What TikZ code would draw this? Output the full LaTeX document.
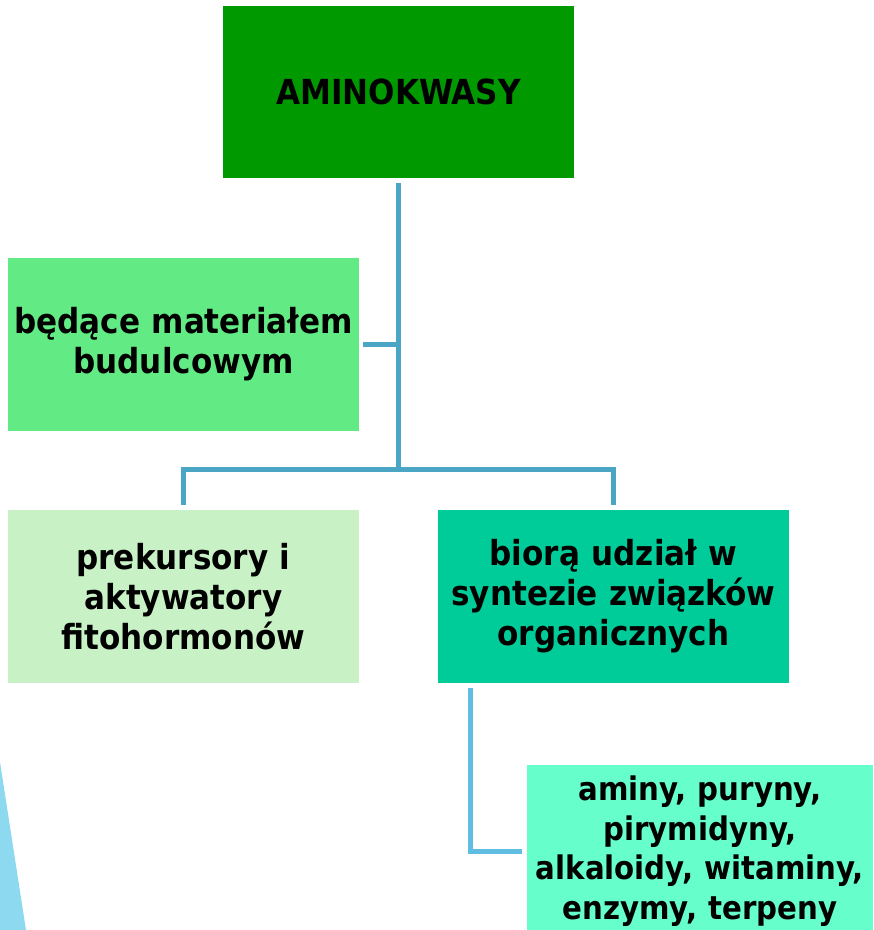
\documentclass[tikz,border=0pt]{standalone}
\usepackage{fontspec}
\setmainfont{DejaVu Sans Condensed}
\usepackage{xcolor}
\usetikzlibrary{positioning, calc}

\definecolor{topgreen}{RGB}{0,153,0}
\definecolor{midgreen}{RGB}{98,234,133}
\definecolor{palegreen}{RGB}{200,242,197}
\definecolor{seagreen}{RGB}{0,204,153}
\definecolor{mintgreen}{RGB}{102,255,204}
\definecolor{linkblue}{RGB}{75,165,197}
\definecolor{lightlink}{RGB}{94,189,224}
\definecolor{skyblue}{RGB}{141,217,240}

\begin{document}
\begin{tikzpicture}[
    x=1pt, y=-1pt,
    block/.style={rectangle, text width=345pt, align=center, minimum width=351pt, minimum height=173pt, inner sep=0pt, font=\fontsize{34.5}{40}\selectfont\bfseries},
    link/.style={line width=5pt, linkblue},
    link2/.style={line width=5pt, lightlink}
]
    \useasboundingbox (0,0) rectangle (874,930);

    % Background wedge
    \fill[skyblue] (0,762) -- (26,930) -- (0,930) -- cycle;

    % Main blocks
    \node[block, fill=topgreen, minimum height=172pt] (amino) at (398.5,92) {AMINOKWASY};
    \node[block, fill=midgreen] (budulec) at (183.5,344.5) {będące materiałem\\budulcowym};
    \node[block, fill=palegreen] (prekursory) at (183.5,596.5) {prekursory i\\aktywatory\\fitohormonów};
    \node[block, fill=seagreen] (synteza) at (613.5,596.5) {biorą udział w\\syntezie związków\\organicznych};
    \node[block, fill=mintgreen, minimum width=346pt, text width=346pt, font=\fontsize{32.5}{39.5}\selectfont\bfseries] (zwiazki) at (700,851) {aminy, puryny,\\pirymidyny,\\alkaloidy, witaminy,\\enzymy, terpeny};

    % Connectors
    \coordinate (fork) at (398.5,469);
    \draw[link, shorten <=5pt] (amino.south) -- (fork);
    \draw[link, shorten <=4pt] (budulec.east) -- (budulec.east -| fork);
    \draw[link, shorten <=5pt, shorten >=5pt] (prekursory.north) |- (fork) -| (synteza.north);
    \draw[link2, shorten <=5pt, shorten >=5pt] ($(synteza.south west)+(33,0)$) |- (zwiazki.west);

\end{tikzpicture}
\end{document}
